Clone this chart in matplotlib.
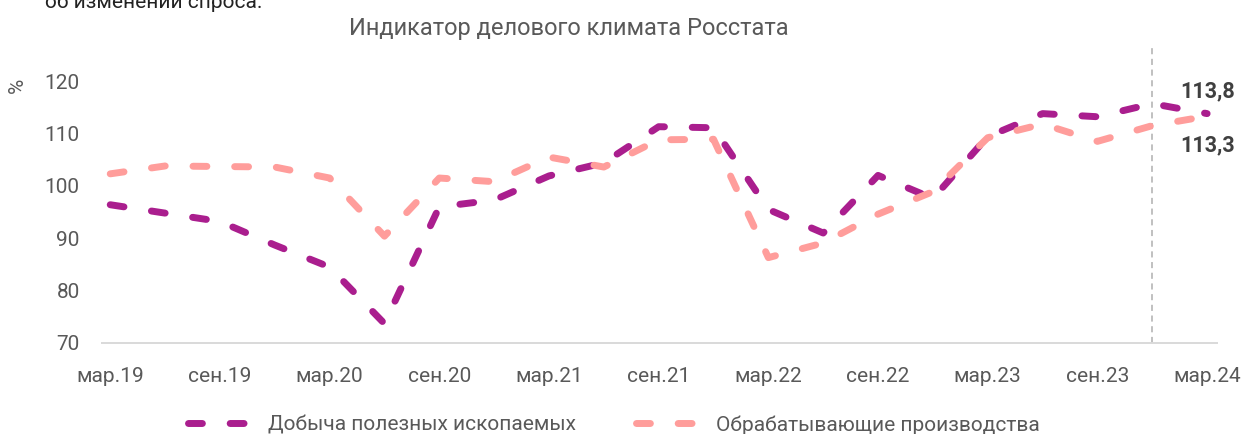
import matplotlib
matplotlib.use("Agg")
import matplotlib.pyplot as plt

# ---- data (quarterly, Mar-2019 .. Mar-2024) ----
quarters = ["мар.19", "июн.19", "сен.19", "дек.19", "мар.20", "июн.20", "сен.20", "дек.20",
            "мар.21", "июн.21", "сен.21", "дек.21", "мар.22", "июн.22", "сен.22", "дек.22",
            "мар.23", "июн.23", "сен.23", "дек.23", "мар.24"]
mining = [96.4, 94.8, 93.2, 88.7, 84.5, 73.7, 96.0, 97.3, 101.9, 104.4, 111.3, 111.1,
          95.5, 91.0, 102.0, 97.6, 109.4, 113.8, 113.2, 115.7, 113.8]
manufacturing = [102.3, 103.8, 103.7, 103.6, 101.5, 90.4, 101.5, 100.8, 105.5, 103.6, 108.8, 108.9,
                 86.3, 89.1, 94.6, 98.9, 109.2, 111.8, 108.5, 111.5, 113.3]
tick_labels = ["мар.19", "сен.19", "мар.20", "сен.20", "мар.21", "сен.21",
               "мар.22", "сен.22", "мар.23", "сен.23", "мар.24"]
yticks = [70, 80, 90, 100, 110, 120]
series_names = ["Добыча полезных ископаемых", "Обрабатывающие производства"]
last_labels = ["113,8", "113,3"]
vline_quarter = "дек.23"

PURPLE = "#AA1E8E"
PINK = "#FF9D9B"
GREY = "#595959"

plt.rcParams['font.family'] = ['Roboto', 'DejaVu Sans']

W, H = 1245, 434
fig = plt.figure(figsize=(W / 100, H / 100), dpi=100)
ax = fig.add_axes([102 / W, (H - 343) / H, (1217 - 102) / W, (343 - 45) / H])

x = list(range(len(quarters)))
dash = (2.0, 4.0)
for vals, col, name in [(mining, PURPLE, series_names[0]), (manufacturing, PINK, series_names[1])]:
    ln, = ax.plot(x, vals, color=col, lw=5, label=name, solid_capstyle='round',
                  dash_capstyle='round', dash_joinstyle='round')
    ln.set_dashes(dash)

xv = quarters.index(vline_quarter)
ax.axvline(xv, color="#AFAFAF", lw=1.1, ls=(0, (4, 3)), zorder=0)

ax.set_xlim(-0.15, len(quarters) - 1 + 0.18)
ax.set_ylim(70, 126.9)
ax.set_yticks(yticks)
ax.set_yticklabels([str(v) for v in yticks])
tick_pos = [quarters.index(t) for t in tick_labels]
ax.set_xticks(tick_pos)
ax.set_xticklabels(tick_labels)
ax.tick_params(axis='both', length=0, labelsize=15, labelcolor=GREY)
ax.tick_params(axis='y', pad=16)
ax.tick_params(axis='x', pad=17)
for s in ['top', 'right', 'left']:
    ax.spines[s].set_visible(False)
ax.spines['bottom'].set_color("#D9D9D9")
ax.spines['bottom'].set_linewidth(1.4)

fig.text(17 / W, 1 - 85 / H, "%", rotation=90, ha='center', va='center', fontsize=15, color=GREY)

# end labels
ax.annotate(last_labels[0], (x[-1], mining[-1]), xytext=(-19, 16), textcoords='offset points',
            ha='left', va='center', fontsize=15.5, fontweight='bold', color="#404040")
ax.annotate(last_labels[1], (x[-1], manufacturing[-1]), xytext=(-19, -21), textcoords='offset points',
            ha='left', va='center', fontsize=15.5, fontweight='bold', color="#404040")

fig.text(569 / W, 1 - 29 / H, "Индикатор делового климата Росстата", ha='center', va='center',
         fontsize=17, color=GREY)
fig.text(45 / W, 1 - 8 / H, "об изменений спроса.", ha='left', va='baseline', fontsize=15, color="#222222")

leg = fig.legend(loc='center', bbox_to_anchor=(614 / W, 9 / H), ncol=2, frameon=False,
                 fontsize=15, handlelength=3.1, columnspacing=2.9, handletextpad=0.72)
for t in leg.get_texts():
    t.set_color(GREY)

fig.savefig("out.png", dpi=100)
